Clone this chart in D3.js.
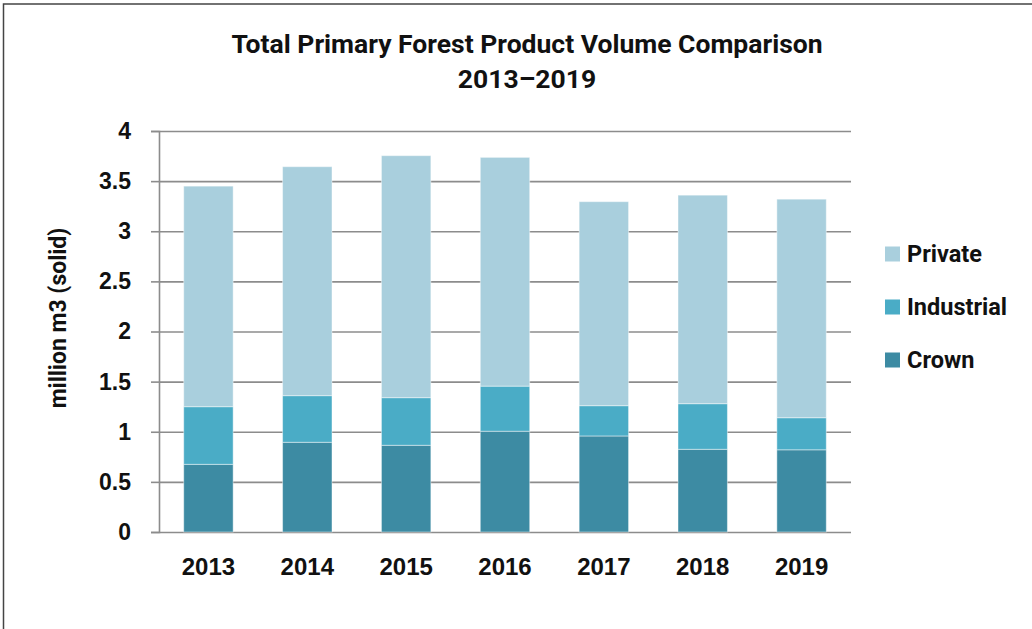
<!DOCTYPE html>
<html>
<head>
  <script src="https://d3js.org/d3.v7.min.js"></script>
  <style>
    body {
      margin: 0;
      background-color: #fff;
      font-family: Roboto, "Noto Sans", sans-serif;
    }

    .grid line {
      stroke: #8c8c8c;
      stroke-width: 1.6px;
    }

    .grid .domain {
      display: none;
    }

    .y-axis .domain, .y-axis line {
      stroke: #8c8c8c;
      stroke-width: 1.6px;
    }

    .y-axis text {
      font-size: 23px;
      font-weight: 700;
      fill: #111;
    }

    .x-axis text {
      font-size: 24px;
      font-weight: 700;
      fill: #111;
    }
  </style>
</head>
<body>
  <div id="chart"></div>
  <script>
    // Data
    const years = ["2013", "2014", "2015", "2016", "2017", "2018", "2019"];
    const crown = [0.675, 0.895, 0.865, 1.005, 0.958, 0.825, 0.82];
    const industrial = [0.575, 0.465, 0.475, 0.45, 0.302, 0.455, 0.32];
    const privateVol = [2.2, 2.284, 2.414, 2.282, 2.035, 2.08, 2.18];
    const seriesNames = ["Crown", "Industrial", "Private"];
    const yTicks = [0, 0.5, 1, 1.5, 2, 2.5, 3, 3.5, 4];

    const colors = { Crown: "#3d8ba3", Industrial: "#4aacc6", Private: "#a9cfdd" };

    // Layout
    const W = 1032, H = 629;
    const margin = { top: 131, left: 159, right: 181, bottom: 97 };
    const width = W - margin.left - margin.right;
    const height = H - margin.top - margin.bottom;

    const svg = d3.select("#chart")
      .append("svg")
      .attr("width", W)
      .attr("height", H);

    // Outer frame (runs off the right and bottom edges)
    svg.append("rect")
      .attr("x", 3.5)
      .attr("y", 4)
      .attr("width", W + 20)
      .attr("height", H + 20)
      .attr("fill", "none")
      .attr("stroke", "#444")
      .attr("stroke-width", 1.5);

    // Title
    const title = svg.append("text")
      .attr("text-anchor", "middle")
      .style("font-size", "26.5px")
      .style("font-weight", 700)
      .style("fill", "#111");
    title.append("tspan").attr("x", 527).attr("y", 53).text("Total Primary Forest Product Volume Comparison");
    title.append("tspan").attr("x", 527).attr("y", 88).text("2013\u20132019");

    const g = svg.append("g")
      .attr("transform", `translate(${margin.left}, ${margin.top})`);

    // Scales
    const x = d3.scaleBand()
      .domain(years)
      .range([0, width])
      .paddingInner(0.5)
      .paddingOuter(0.25);

    const y = d3.scaleLinear()
      .domain([0, 4])
      .range([height, 0]);

    // Gridlines
    g.append("g")
      .attr("class", "grid")
      .call(d3.axisLeft(y).tickValues(yTicks).tickSize(-width).tickFormat(""));

    // Y axis
    g.append("g")
      .attr("class", "y-axis")
      .call(d3.axisLeft(y).tickValues(yTicks).tickSize(8).tickSizeOuter(8).tickPadding(20).tickFormat(d3.format("")));

    // Stack
    const table = years.map((yr, i) => ({
      year: yr, Crown: crown[i], Industrial: industrial[i], Private: privateVol[i]
    }));
    const stacked = d3.stack().keys(seriesNames)(table);

    g.selectAll(".series")
      .data(stacked)
      .enter()
      .append("g")
      .attr("fill", d => colors[d.key])
      .selectAll("rect")
      .data(d => d)
      .enter()
      .append("rect")
      .attr("x", d => x(d.data.year))
      .attr("width", x.bandwidth())
      .attr("y", d => y(d[1]))
      .attr("height", d => y(d[0]) - y(d[1]))
      .attr("stroke", "rgba(255,255,255,0.45)")
      .attr("stroke-width", 1);

    // X axis labels
    const xAxis = g.append("g")
      .attr("class", "x-axis")
      .attr("transform", `translate(0, ${height})`)
      .call(d3.axisBottom(x).tickSize(0).tickPadding(27));
    xAxis.select(".domain").remove();
    xAxis.selectAll("text").attr("dy", null).attr("y", 43);

    // Y axis title
    svg.append("text")
      .attr("transform", "rotate(-90)")
      .attr("x", -318)
      .attr("y", 66)
      .attr("text-anchor", "middle")
      .style("font-size", "23px")
      .style("font-weight", 700)
      .style("fill", "#111")
      .text("million m3 (solid)");

    // Legend
    const legendOrder = ["Private", "Industrial", "Crown"];
    const legend = svg.append("g")
      .attr("transform", "translate(885, 254)");
    const item = legend.selectAll(".item")
      .data(legendOrder)
      .enter()
      .append("g")
      .attr("transform", (d, i) => `translate(0, ${i * 53})`);
    item.append("rect")
      .attr("x", 0)
      .attr("y", -7.5)
      .attr("width", 15)
      .attr("height", 15)
      .attr("fill", d => colors[d]);
    item.append("text")
      .attr("x", 22)
      .attr("y", 0)
      .attr("dy", "0.35em")
      .style("font-size", "23.5px")
      .style("font-weight", 700)
      .style("fill", "#111")
      .text(d => d);
  </script>
</body>
</html>
